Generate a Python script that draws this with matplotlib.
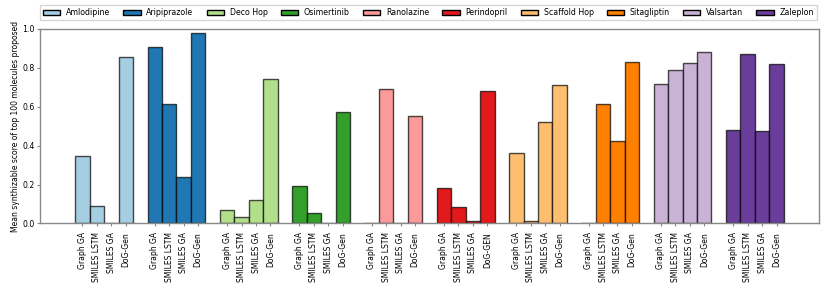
import matplotlib
matplotlib.use("Agg")
import matplotlib.pyplot as plt
from matplotlib.patches import Patch
import numpy as np

targets = ["Amlodipine", "Aripiprazole", "Deco Hop", "Osimertinib", "Ranolazine",
           "Perindopril", "Scaffold Hop", "Sitagliptin", "Valsartan", "Zaleplon"]
methods = ["Graph GA", "SMILES LSTM", "SMILES GA", "DoG-Gen"]
method_labels = {t: list(methods) for t in targets}
method_labels["Perindopril"] = ["Graph GA", "SMILES LSTM", "SMILES GA", "DoG-GEN"]

amlodipine   = [0.345, 0.092, 0.0, 0.858]
aripiprazole = [0.909, 0.614, 0.237, 0.979]
deco_hop     = [0.068, 0.035, 0.122, 0.743]
osimertinib  = [0.194, 0.056, 0.0, 0.572]
ranolazine   = [0.002, 0.692, 0.0, 0.551]
perindopril  = [0.184, 0.086, 0.014, 0.683]
scaffold_hop = [0.361, 0.014, 0.523, 0.710]
sitagliptin  = [0.002, 0.614, 0.423, 0.829]
valsartan    = [0.716, 0.789, 0.824, 0.880]
zaleplon     = [0.479, 0.873, 0.474, 0.820]
values = [amlodipine, aripiprazole, deco_hop, osimertinib, ranolazine,
          perindopril, scaffold_hop, sitagliptin, valsartan, zaleplon]

colors = plt.get_cmap("Paired").colors[:10]

fig = plt.figure(figsize=(8.3, 2.97), dpi=100)
ax = fig.add_axes([0.048, 0.2475, 0.939, 0.655])

xticks, xlabels = [], []
for g, (t, vals) in enumerate(zip(targets, values)):
    xs = np.arange(len(vals)) + g * 5
    ax.bar(xs, vals, width=1.0, color=colors[g], edgecolor=(0, 0, 0, 0.7), linewidth=1.0)
    xticks.extend(xs)
    xlabels.extend(method_labels[t])

ax.set_xticks(xticks)
ax.set_xticklabels(xlabels, rotation=90, fontsize=5.5)
ax.tick_params(axis="both", length=2.2, width=0.8, color="#888888")
ax.tick_params(axis="x", pad=4)
ax.tick_params(axis="y", labelsize=5.6, pad=1.5)
ax.set_xlim(-2.95, 50.95)
ax.set_ylim(0, 1.0)
ax.set_yticks([0, 0.2, 0.4, 0.6, 0.8, 1.0])
ax.set_ylabel("Mean synthizable score of top 100 molecules proposed", fontsize=5.5, labelpad=2)
for s in ax.spines.values():
    s.set_color("#888888")
    s.set_linewidth(1.0)

handles = [Patch(facecolor=colors[i], edgecolor="black", label=t) for i, t in enumerate(targets)]
ax.legend(handles=handles, ncol=10, loc="lower left", bbox_to_anchor=(0, 1.045, 0.997, 0.1),
          mode="expand", fontsize=5.7, borderaxespad=0, handlelength=2.2, handleheight=0.6,
          columnspacing=1.0, handletextpad=0.7, edgecolor="#cccccc", fancybox=False)

fig.savefig("out.png", dpi=100)
